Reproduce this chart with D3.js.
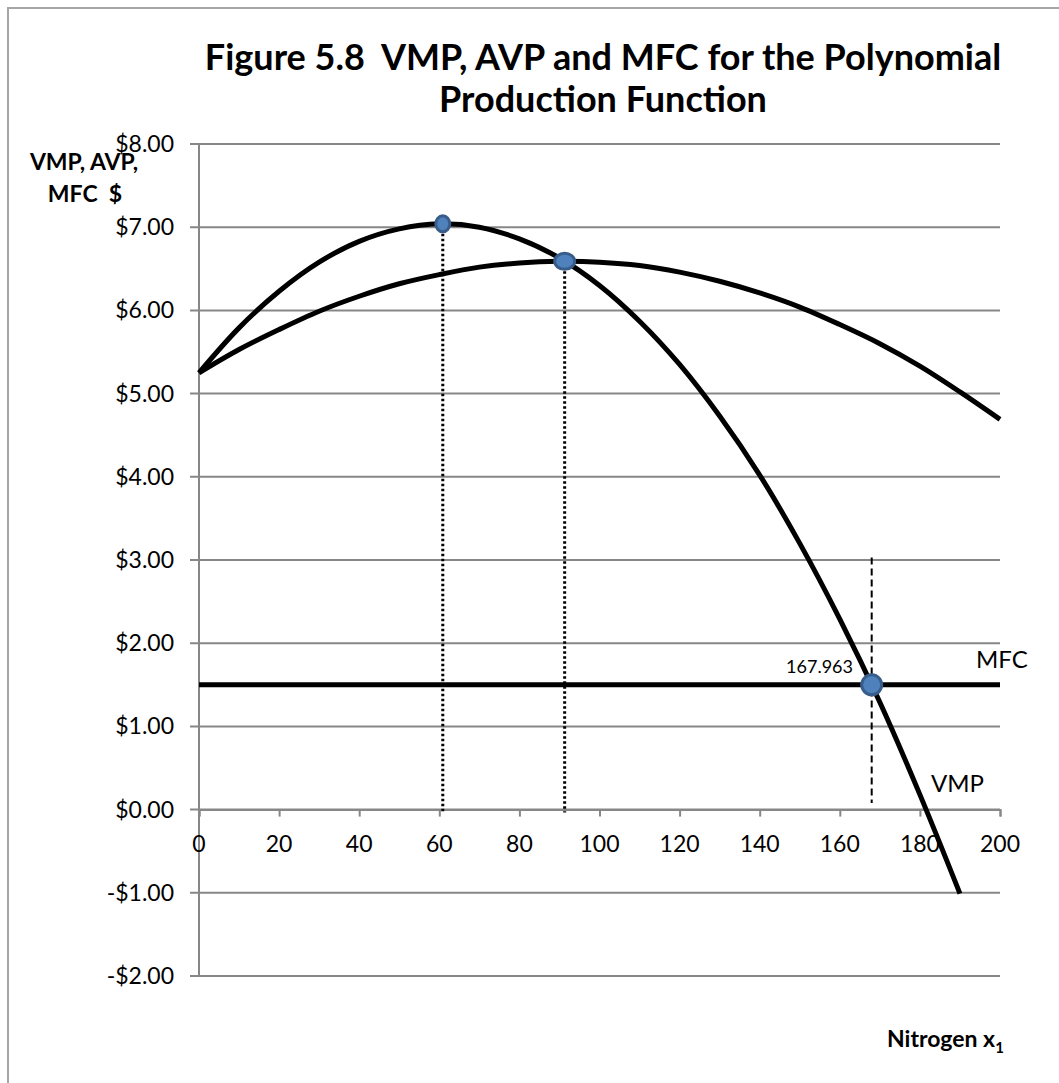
<!DOCTYPE html>
<html>
<head>
<meta charset="utf-8">
<script src="https://cdn.jsdelivr.net/npm/d3@7"></script>
<style>
  body { margin: 0; background: #fff; }
  svg text { font-family: Lato, "Open Sans", sans-serif; fill: #000; white-space: pre; }
</style>
</head>
<body>
<div id="chart"></div>
<script>
// values
const xValues = [0, 10, 20, 30, 40, 50, 60, 70, 80, 90, 100, 110, 120, 130, 140, 150, 160, 170, 180, 190, 200];
const avpValues = [5.25, 5.53, 5.77, 5.99, 6.17, 6.32, 6.43, 6.52, 6.57, 6.59, 6.58, 6.54, 6.46, 6.35, 6.21, 6.04, 5.83, 5.60, 5.33, 5.02, 4.69];
const vmpValues = [5.25, 5.79, 6.23, 6.58, 6.83, 6.98, 7.04, 7.00, 6.86, 6.63, 6.30, 5.87, 5.35, 4.73, 4.02, 3.20, 2.29, 1.29, 0.18, -1.01];
const mfcX = [0, 200];
const mfcValues = [1.5, 1.5];
const markerX = [60.87, 91.3, 167.963];
const markerY = [7.04, 6.59, 1.5];
const dropLines = [[60.87, 7.04, 0], [91.3, 6.59, 0]];
const dashLine = [167.963, 3.03, 0.08];
const yTicks = [-2, -1, 0, 1, 2, 3, 4, 5, 6, 7, 8];
const xTicks = [0, 20, 40, 60, 80, 100, 120, 140, 160, 180, 200];

const width = 1059, height = 1083;
const svg = d3.select("#chart").append("svg").attr("width", width).attr("height", height);

// outer chart border (only top/left visible in the crop)
svg.append("rect").attr("x", 8).attr("y", 8).attr("width", 1200).attr("height", 1200)
  .attr("fill", "none").attr("stroke", "#a6a6a6").attr("stroke-width", 2);

const x = d3.scaleLinear().domain([0, 200]).range([199, 1000]);
const y = d3.scaleLinear().domain([-2, 8]).range([976, 144]);

// gridlines
svg.append("g").selectAll("line").data(yTicks).join("line")
  .attr("x1", x(0) - 9).attr("x2", x(200))
  .attr("y1", d => y(d)).attr("y2", d => y(d))
  .attr("stroke", "#878787").attr("stroke-width", 2);

// y axis line
svg.append("line").attr("x1", x(0)).attr("x2", x(0)).attr("y1", y(8)).attr("y2", y(-2))
  .attr("stroke", "#878787").attr("stroke-width", 2);

// y tick labels
const fmt = d => (d < 0 ? "-$" : "$") + Math.abs(d).toFixed(2);
svg.append("g").selectAll("text").data(yTicks).join("text")
  .attr("x", 174).attr("y", d => y(d)).attr("dy", "0.35em")
  .attr("text-anchor", "end").attr("font-size", 23).text(fmt);

// x axis at y = 0 with tick marks
const xAxis = d3.axisBottom(x).tickValues(xTicks).tickSize(7).tickFormat("");
const gx = svg.append("g").attr("transform", `translate(0,${y(0)})`).call(xAxis);
gx.select(".domain").attr("stroke", "#878787").attr("stroke-width", 2);
gx.selectAll(".tick line").attr("stroke", "#878787").attr("stroke-width", 2);
svg.append("g").selectAll("text").data(xTicks).join("text")
  .attr("x", d => x(d)).attr("y", y(0) + 42)
  .attr("text-anchor", "middle").attr("font-size", 23).text(d => d);

// drop lines
svg.append("g").selectAll("line").data(dropLines).join("line")
  .attr("x1", d => x(d[0])).attr("x2", d => x(d[0]))
  .attr("y1", d => y(d[1])).attr("y2", d => y(d[2]) + 3)
  .attr("stroke", "#000").attr("stroke-width", 3).attr("stroke-dasharray", "2.5,2.5");
svg.append("line")
  .attr("x1", x(dashLine[0])).attr("x2", x(dashLine[0]))
  .attr("y1", y(dashLine[1])).attr("y2", y(dashLine[2]))
  .attr("stroke", "#000").attr("stroke-width", 2).attr("stroke-dasharray", "7,4");

// curves
const line = d3.line().x(d => x(d[0])).y(d => y(d[1])).curve(d3.curveCatmullRom);
svg.append("path").datum(xValues.map((d, i) => [d, avpValues[i]]))
  .attr("d", line).attr("fill", "none").attr("stroke", "#000").attr("stroke-width", 5);
svg.append("path").datum(vmpValues.map((d, i) => [xValues[i], d]))
  .attr("d", line).attr("fill", "none").attr("stroke", "#000").attr("stroke-width", 5);
svg.append("path").datum(mfcX.map((d, i) => [d, mfcValues[i]]))
  .attr("d", line).attr("fill", "none").attr("stroke", "#000").attr("stroke-width", 5);

// markers
const rx = [7, 10, 10], ry = [8, 8, 10];
svg.append("g").selectAll("ellipse").data(markerX).join("ellipse")
  .attr("cx", d => x(d)).attr("cy", (d, i) => y(markerY[i]))
  .attr("rx", (d, i) => rx[i]).attr("ry", (d, i) => ry[i])
  .attr("fill", "#4f81bd").attr("stroke", "#385d8a").attr("stroke-width", 3);

// labels
svg.append("text").attr("x", 853).attr("y", y(1.5) - 18).attr("dy", "0.35em")
  .attr("text-anchor", "end").attr("font-size", 18).text("167.963");
svg.append("text").attr("x", 976).attr("y", y(1.5) - 25).attr("dy", "0.35em")
  .attr("font-size", 24).text("MFC");
svg.append("text").attr("x", 931).attr("y", y(0) - 26).attr("dy", "0.35em")
  .attr("font-size", 24).text("VMP");

// title
const title = svg.append("text").attr("text-anchor", "middle").attr("font-size", 36).attr("font-weight", "bold");
title.append("tspan").attr("x", 603).attr("y", 70).text("Figure 5.8  VMP, AVP and MFC for the Polynomial");
title.append("tspan").attr("x", 603).attr("y", 112).text("Production Function");

// y axis title
const ylab = svg.append("text").attr("text-anchor", "middle").attr("font-size", 23).attr("font-weight", "bold");
ylab.append("tspan").attr("x", 84).attr("y", 170).text("VMP, AVP,");
ylab.append("tspan").attr("x", 85).attr("y", 202).text("MFC  $");

// x axis title with subscript
const xlab = svg.append("text").attr("x", 887).attr("y", 1047).attr("font-size", 23).attr("font-weight", "bold");
xlab.append("tspan").text("Nitrogen x");
xlab.append("tspan").attr("font-size", 15).attr("dy", 6).text("1");
</script>
</body>
</html>
